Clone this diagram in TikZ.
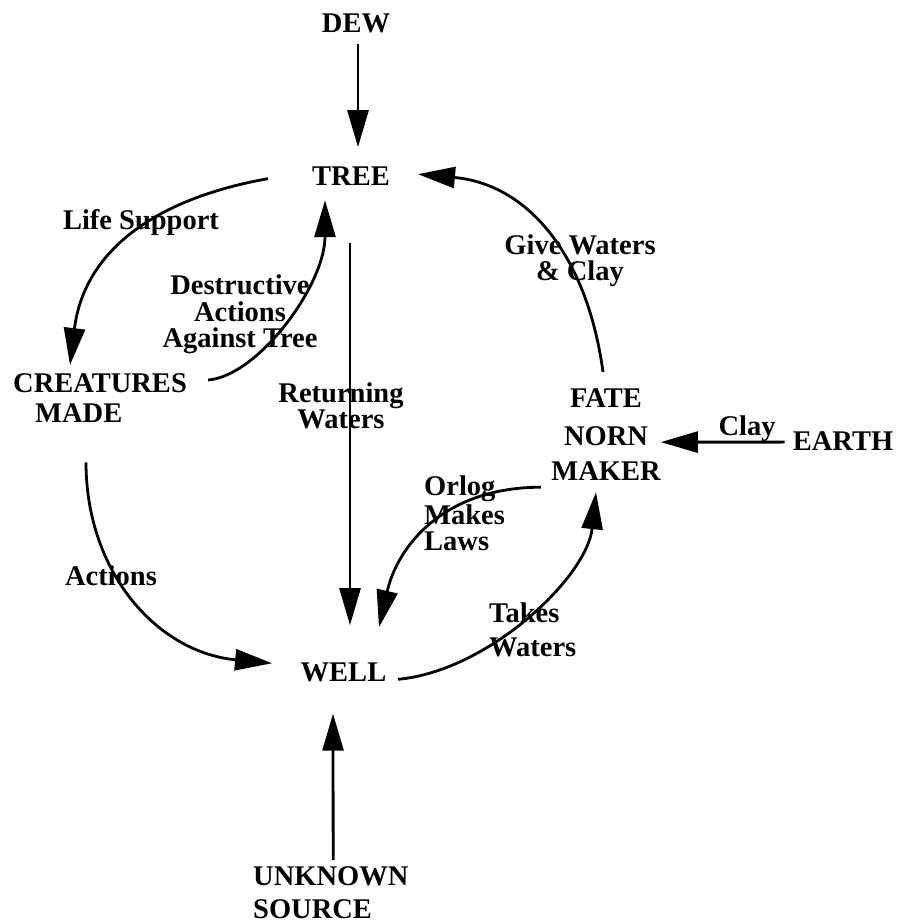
\documentclass[tikz,border=0pt]{standalone}
\usepackage{fontspec}
\setmainfont{Liberation Serif}
\usetikzlibrary{arrows.meta}
\tikzset{
  lbl/.style={inner sep=0pt, font=\fontsize{28.5}{25}\selectfont\bfseries},
  flow/.style={line width=2.8pt, -{Triangle[length=37pt,width=21pt]}}
}
\begin{document}
\begin{tikzpicture}[x=1pt,y=1pt]
\useasboundingbox (0,0) rectangle (905,-924);
\node[lbl, anchor=base] (1) at (356,-32) {DEW};
\node[lbl, anchor=base] (2) at (351,-185) {TREE};
\node[lbl, anchor=north west, align=left] (3) at (13,-373) {CREATURES\\[5pt]\hspace*{22pt}MADE};
\node[lbl, anchor=north, align=center] (4) at (606,-388) {FATE\\[13pt]NORN\\[10pt]MAKER};
\node[lbl, anchor=base] (5) at (843,-450) {EARTH};
\node[lbl, anchor=base] (6) at (343.5,-681) {WELL};
\node[lbl, anchor=north west, align=left] (7) at (253,-866) {UNKNOWN\\[8pt]SOURCE};
\node[lbl, anchor=base] (l1) at (141,-229) {Life Support};
\node[lbl, anchor=north, align=center] (l2) at (240,-275) {Destructive\\[1.5pt]Actions\\[1.5pt]Against Tree};
\node[lbl, anchor=north, align=center] (l3) at (341,-383) {Returning\\[1pt]Waters};
\node[lbl, anchor=north, align=center] (l4) at (580,-235) {Give Waters\\[1pt]\& Clay};
\node[lbl, anchor=base] (l5) at (747,-435) {Clay};
\node[lbl, anchor=north west, align=left] (l6) at (424,-476) {Orlog\\[1pt]Makes\\[1pt]Laws};
\node[lbl, anchor=base] (l7) at (111,-585) {Actions};
\node[lbl, anchor=north west, align=left] (l8) at (489,-603) {Takes\\[9pt]Waters};
\path[draw,flow] ([shift={(2,-11)}]1.south) -- ([shift={(7,19)}]2.north);
\path[draw,flow] ([shift={(-44,-3)}]2.west) .. controls +(-113,-20) and +(14,114) .. ([shift={(57,8)}]3.north west);
\path[draw,flow] ([shift={(21,-7)}]3.north east) .. controls +(50,4) and +(0,-85) .. ([shift={(-26,-15)}]2.south);
\path[draw,flow] ([shift={(-1,-58)}]2.south) -- ([shift={(6.5,37)}]6.north);
\path[draw,flow] ([shift={(73,-40)}]3.south west) .. controls +(0,-110) and +(-115,11) .. ([shift={(-28.5,8.6)}]6.west);
\path[draw,flow] ([shift={(-10.4,-7)}]4.south west) .. controls +(-95,0) and +(19,83) .. ([shift={(35.5,35)}]6.north);
\path[draw,flow] ([shift={(11.5,-7.4)}]6.east) .. controls +(90,8) and +(-9,-85) .. ([shift={(-10,-12)}]4.south);
\path[draw,flow] ([shift={(-3,16)}]4.north) .. controls +(-16,117) and +(110,-10) .. ([shift={(28,1.5)}]2.east);
\path[draw,flow] ([shift={(-8,-1.5)}]5.west) -- ([shift={(0,-8)}]4.east);
\path[draw,flow] ([shift={(2.4,6)}]7.north) -- ([shift={(-10.5,-32)}]6.south);
\end{tikzpicture}
\end{document}
